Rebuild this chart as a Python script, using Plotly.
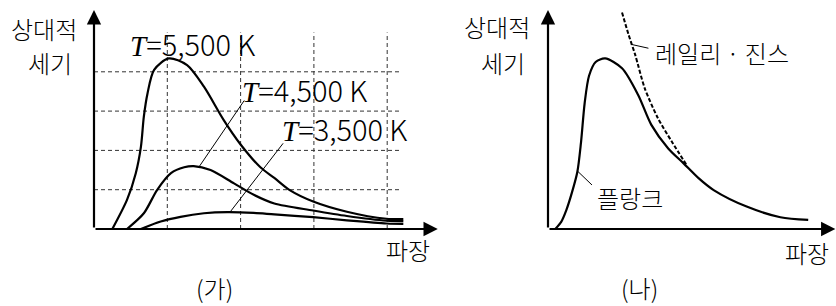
import plotly.graph_objects as go

W, H = 836, 306

# ---------------- data ----------------
# panel (가): three blackbody curves, x in grid units, y in grid units
t5500_x = [0.25, 0.45, 0.57, 0.64, 0.68, 0.73, 0.82, 1.02, 1.27, 1.50, 1.77, 2.00, 2.27, 2.46, 2.67, 2.99, 3.45, 3.99, 4.22]
t5500_y = [0.00, 0.74, 1.42, 2.09, 2.86, 3.45, 4.05, 4.34, 4.17, 3.62, 2.77, 2.15, 1.57, 1.30, 0.99, 0.70, 0.44, 0.26, 0.25]

t4500_x = [0.45, 0.68, 0.86, 1.05, 1.23, 1.36, 1.59, 1.91, 2.18, 2.46, 2.99, 3.45, 3.99, 4.22]
t4500_y = [0.00, 0.40, 0.99, 1.42, 1.57, 1.60, 1.50, 1.16, 0.87, 0.65, 0.47, 0.33, 0.21, 0.20]

t3500_x = [0.64, 0.91, 1.18, 1.50, 1.82, 2.18, 2.46, 2.99, 3.45, 3.99, 4.22]
t3500_y = [0.00, 0.19, 0.31, 0.40, 0.43, 0.41, 0.37, 0.30, 0.22, 0.14, 0.13]

grid_x = [1, 2, 3, 4]
grid_y = [1, 2, 3, 4]
grid_top = 5.0
grid_right = 4.2

labels_left = ["5,500 K", "4,500 K", "3,500 K"]
labels_left_pos = [(0.46, 4.73), (1.99, 3.56), (2.54, 2.57)]
leaders_left = [((2.05, 3.27), (1.44, 1.60)), ((2.58, 2.18), (1.86, 0.44))]

# panel (나): Planck vs Rayleigh-Jeans
planck_x = [0.10, 0.18, 0.25, 0.33, 0.40, 0.45, 0.50, 0.56, 0.65, 0.78, 1.01, 1.23, 1.41, 1.64, 1.85, 2.05, 2.26, 2.71, 3.17, 3.55]
planck_y = [0.00, 0.18, 0.48, 0.95, 1.45, 2.20, 3.20, 3.90, 4.25, 4.34, 4.09, 3.41, 2.65, 2.05, 1.67, 1.30, 0.99, 0.57, 0.30, 0.23]

rj_x = [1.01, 1.10, 1.19, 1.32, 1.50, 1.69, 1.89]
rj_y = [5.51, 4.94, 4.43, 3.58, 2.82, 2.22, 1.63]

rj_label = "레일리 · 진스"
rj_label_pos = (1.43, 4.48)
rj_leader = ((1.13, 4.70), (1.37, 4.60))
planck_label = "플랑크"
planck_label_pos = (0.64, 0.81)
planck_leader = ((0.41, 1.46), (0.60, 1.12))

# axis extents (grid units)
L_XMAX, L_YMAX = 4.69, 5.57
R_XMAX, R_YMAX = 3.92, 5.57

KFONT = "Noto Sans CJK KR"

fig = go.Figure()

line_style = dict(color="black", width=2.2, shape="spline", smoothing=0.8)
for xs, ys in [(t5500_x, t5500_y), (t4500_x, t4500_y), (t3500_x, t3500_y)]:
    fig.add_trace(go.Scatter(x=xs, y=ys, mode="lines", line=line_style,
                             xaxis="x", yaxis="y", hoverinfo="skip"))

fig.add_trace(go.Scatter(x=planck_x, y=planck_y, mode="lines", line=line_style,
                         xaxis="x2", yaxis="y2", hoverinfo="skip"))
fig.add_trace(go.Scatter(x=rj_x, y=rj_y, mode="lines",
                         line=dict(color="black", width=2, dash="4px,2px", shape="spline", smoothing=0.8),
                         xaxis="x2", yaxis="y2", hoverinfo="skip"))

shapes = []
gdash = dict(color="#333", width=1, dash="4px,3px")
for gx in grid_x:
    shapes.append(dict(type="line", xref="x", yref="y", x0=gx, x1=gx, y0=0, y1=grid_top, line=gdash, layer="below"))
for gy in grid_y:
    shapes.append(dict(type="line", xref="x", yref="y", x0=0, x1=grid_right, y0=gy, y1=gy, line=gdash, layer="below"))

thin = dict(color="black", width=1)
for (a, b) in leaders_left:
    shapes.append(dict(type="line", xref="x", yref="y", x0=a[0], y0=a[1], x1=b[0], y1=b[1], line=thin))
for (a, b) in [rj_leader, planck_leader]:
    shapes.append(dict(type="line", xref="x2", yref="y2", x0=a[0], y0=a[1], x1=b[0], y1=b[1], line=thin))

ann = []


def axis_arrow(xr, yr, x, y):
    return dict(xref=xr, yref=yr, axref=xr, ayref=yr, x=x, y=y, ax=0, ay=0, text="",
                showarrow=True, arrowhead=2, arrowsize=1.3, arrowwidth=2.2, arrowcolor="black",
                standoff=0, startstandoff=0)


ann.append(axis_arrow("x", "y", L_XMAX, 0))
ann.append(axis_arrow("x", "y", 0, L_YMAX))
ann.append(axis_arrow("x2", "y2", R_XMAX, 0))
ann.append(axis_arrow("x2", "y2", 0, R_YMAX))

tfont = dict(family=KFONT, size=29, color="black", weight=300)
for txt, (lx, ly) in zip(labels_left, labels_left_pos):
    ann.append(dict(xref="x", yref="y", x=lx, y=ly, xanchor="left", yanchor="middle", showarrow=False,
                    text="<span style='font-family:Liberation Serif'><i>T</i></span>=" + txt, font=tfont))

kfont = dict(family=KFONT, size=24, color="black", weight=300)
ann.append(dict(xref="x2", yref="y2", x=rj_label_pos[0], y=rj_label_pos[1], xanchor="left", yanchor="middle",
                showarrow=False, text=rj_label, font=kfont))
ann.append(dict(xref="x2", yref="y2", x=planck_label_pos[0], y=planck_label_pos[1], xanchor="left", yanchor="middle",
                showarrow=False, text=planck_label, font=kfont))


def ptext(txt, cx, cy):
    return dict(xref="paper", yref="paper", x=cx / W, y=1 - cy / H, xanchor="center", yanchor="middle",
                showarrow=False, text=txt, font=kfont, borderpad=0)


ann += [ptext("상대적", 44, 28), ptext("세기", 50, 63), ptext("파장", 408, 249), ptext("(가)", 214, 287),
        ptext("상대적", 497, 26), ptext("세기", 503, 63), ptext("파장", 807, 253), ptext("(나)", 639, 287)]

ax_common = dict(visible=False, fixedrange=True)
fig.update_layout(
    width=W, height=H, margin=dict(l=0, r=0, t=0, b=0),
    paper_bgcolor="white", plot_bgcolor="white", showlegend=False,
    xaxis=dict(domain=[94 / W, 440 / W], range=[0, 346 / 73.3], anchor="y", **ax_common),
    yaxis=dict(domain=[1 - 229 / H, 1 - 8 / H], range=[0, 221 / 39.3], anchor="x", **ax_common),
    xaxis2=dict(domain=[548 / W, 1.0], range=[0, 288 / 73.3], anchor="y2", **ax_common),
    yaxis2=dict(domain=[1 - 229 / H, 1 - 8 / H], range=[0, 221 / 39.3], anchor="x2", **ax_common),
    shapes=shapes, annotations=ann,
)

fig.write_html("out.html", config={"displayModeBar": False},
               post_script="document.body.style.margin='0';")
